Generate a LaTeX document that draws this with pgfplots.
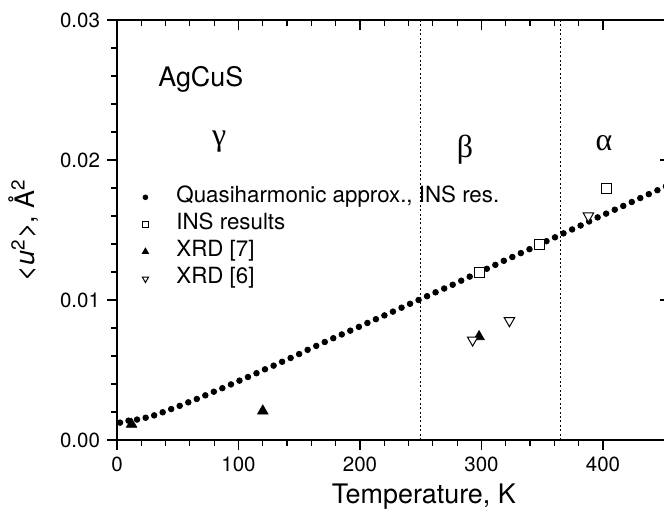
\documentclass[border=0pt]{standalone}
\usepackage{pgfplots}
\pgfplotsset{compat=1.18}
\usepackage{pgfplotstable}
\usepackage{fontspec}
\setmainfont{TeX Gyre Heros}
\newfontfamily\greekfont{Liberation Serif}

% quasiharmonic approximation, one dot every ~7 K
\pgfplotstableread{
T u
2.5 0.00124
9.5 0.00138
16.5 0.00146
23.6 0.00159
30.6 0.00176
37.6 0.00198
44.6 0.00221
51.6 0.00244
58.7 0.00269
65.7 0.00293
72.7 0.00319
79.7 0.00345
86.7 0.00370
93.8 0.00397
100.8 0.00424
107.8 0.00450
114.8 0.00477
121.8 0.00505
128.9 0.00531
135.9 0.00559
142.9 0.00586
149.9 0.00614
156.9 0.00644
164.0 0.00672
171.0 0.00700
178.0 0.00727
185.0 0.00754
192.0 0.00781
199.1 0.00808
206.1 0.00836
213.1 0.00863
220.1 0.00890
227.1 0.00917
234.2 0.00945
241.2 0.00973
248.2 0.01000
255.2 0.01027
262.2 0.01055
269.3 0.01082
276.3 0.01109
283.3 0.01138
290.3 0.01167
297.3 0.01195
304.4 0.01223
311.4 0.01251
318.4 0.01280
325.4 0.01307
332.4 0.01335
339.5 0.01363
346.5 0.01391
353.5 0.01420
360.5 0.01448
367.5 0.01476
374.6 0.01504
381.6 0.01532
388.6 0.01561
395.6 0.01590
402.6 0.01617
409.7 0.01645
416.7 0.01672
423.7 0.01700
430.7 0.01728
437.7 0.01756
444.8 0.01784
451.8 0.01812
}\quasidata

\begin{document}
\begin{tikzpicture}
\pgfplotsset{
    frame/.style={
        width=276.4bp, height=210bp, scale only axis,
        xmin=0, xmax=455, ymin=0, ymax=0.03,
        xtick={0,100,...,400}, ytick={0,0.01,0.02,0.03},
        minor x tick num=4,
        scaled y ticks=false,
        major tick length=5bp, minor tick length=3bp,
        axis line style={line width=1bp},
        every tick/.style={black, line width=0.6bp},
    },
    lgd/.style={legend image code/.code={
        \path[draw=none, fill=none] (0bp,0bp) (21bp,0bp);
        \draw[only marks,mark repeat=2,mark phase=2,##1,
        every mark/.append style={scale=#1}]
        plot coordinates {(0bp,0bp) (6bp,0bp) (21bp,0bp)};}},
    lgd/.default=0.6,
}
\begin{axis}[
    frame,
    xtick pos=left, ytick pos=left, tick align=outside,
    minor y tick num=4,
    /pgf/number format/assume math mode=true,
    yticklabel style={/pgf/number format/fixed, /pgf/number format/precision=2,
        /pgf/number format/fixed zerofill},
    tick label style={font=\fontsize{10.3}{10.3}\selectfont},
    xlabel={Temperature, K},
    ylabel={<\textit{u}\textsuperscript{2}>, Å\textsuperscript{2}},
    every axis x label/.style={at={(rel axis cs:0.555,0)}, yshift=-31.5bp, anchor=base,
        font=\fontsize{13.5}{13.5}\selectfont},
    every axis y label/.style={at={(rel axis cs:0,0.5)}, xshift=-41bp, rotate=90, anchor=base,
        font=\fontsize{13.5}{13.5}\selectfont},
    legend cell align=left,
    legend style={at={(0.029,0.605)}, anchor=north west, draw=none, fill=none,
        inner sep=0pt, row sep=2.6bp, font=\fontsize{11.2}{11.2}\selectfont,
        nodes={inner sep=0.5bp, text height=7.5bp, text depth=2.5bp}},
]
    \coordinate (sw) at (rel axis cs:0,0);
    \coordinate (ne) at (rel axis cs:1,1);

    \addplot[forget plot, black, line width=0.6bp, dash pattern=on 1bp off 1.2bp]
        coordinates {(250,0) (250,0.03)};
    \addplot[forget plot, black, line width=0.6bp, dash pattern=on 1bp off 1.2bp]
        coordinates {(365,0) (365,0.03)};

    \addplot[only marks, lgd=0.85, mark=*, mark size=1.4bp, black] table[x=T, y=u] {\quasidata};
    \addplot[only marks, lgd, mark=square*, mark size=2.5bp, black, fill=white,
        line width=0.5bp] coordinates {(298,0.01198) (348,0.01398) (403,0.01798)};
    \addplot[only marks, lgd, mark=triangle*, mark size=3bp, black]
        coordinates {(12,0.00112) (120,0.00207) (298,0.00738)};
    \addplot[only marks, lgd, mark=triangle*, mark size=3bp, black, fill=white,
        line width=0.5bp, mark options={rotate=180}]
        coordinates {(292.7,0.00714) (323,0.00852) (388,0.0160)};

    \node[anchor=base west, inner sep=0pt, font=\fontsize{13.5}{13.5}\selectfont] at (axis cs:33.7,0.02524) {AgCuS};
    \node[anchor=base, font=\greekfont\fontsize{16}{16}\selectfont] at (axis cs:84,0.0210) {γ};
    \node[anchor=base, font=\greekfont\fontsize{16}{16}\selectfont] at (axis cs:286.4,0.02021) {β};
    \node[anchor=base, font=\greekfont\fontsize{16}{16}\selectfont] at (axis cs:400.8,0.02071) {α};

    \legend{{Quasiharmonic approx., INS res.}, INS results, XRD [7], XRD [6]}
\end{axis}
\begin{axis}[
    frame,
    xtick pos=right, ytick pos=right, tick align=inside,
    minor y tick num=0,
    xticklabels={}, yticklabels={},
]
\end{axis}
\pgfresetboundingbox
\path[use as bounding box] ([xshift=-58.5bp, yshift=-36bp]sw) rectangle ([xshift=-2.9bp, yshift=10bp]ne);
\end{tikzpicture}
\end{document}
